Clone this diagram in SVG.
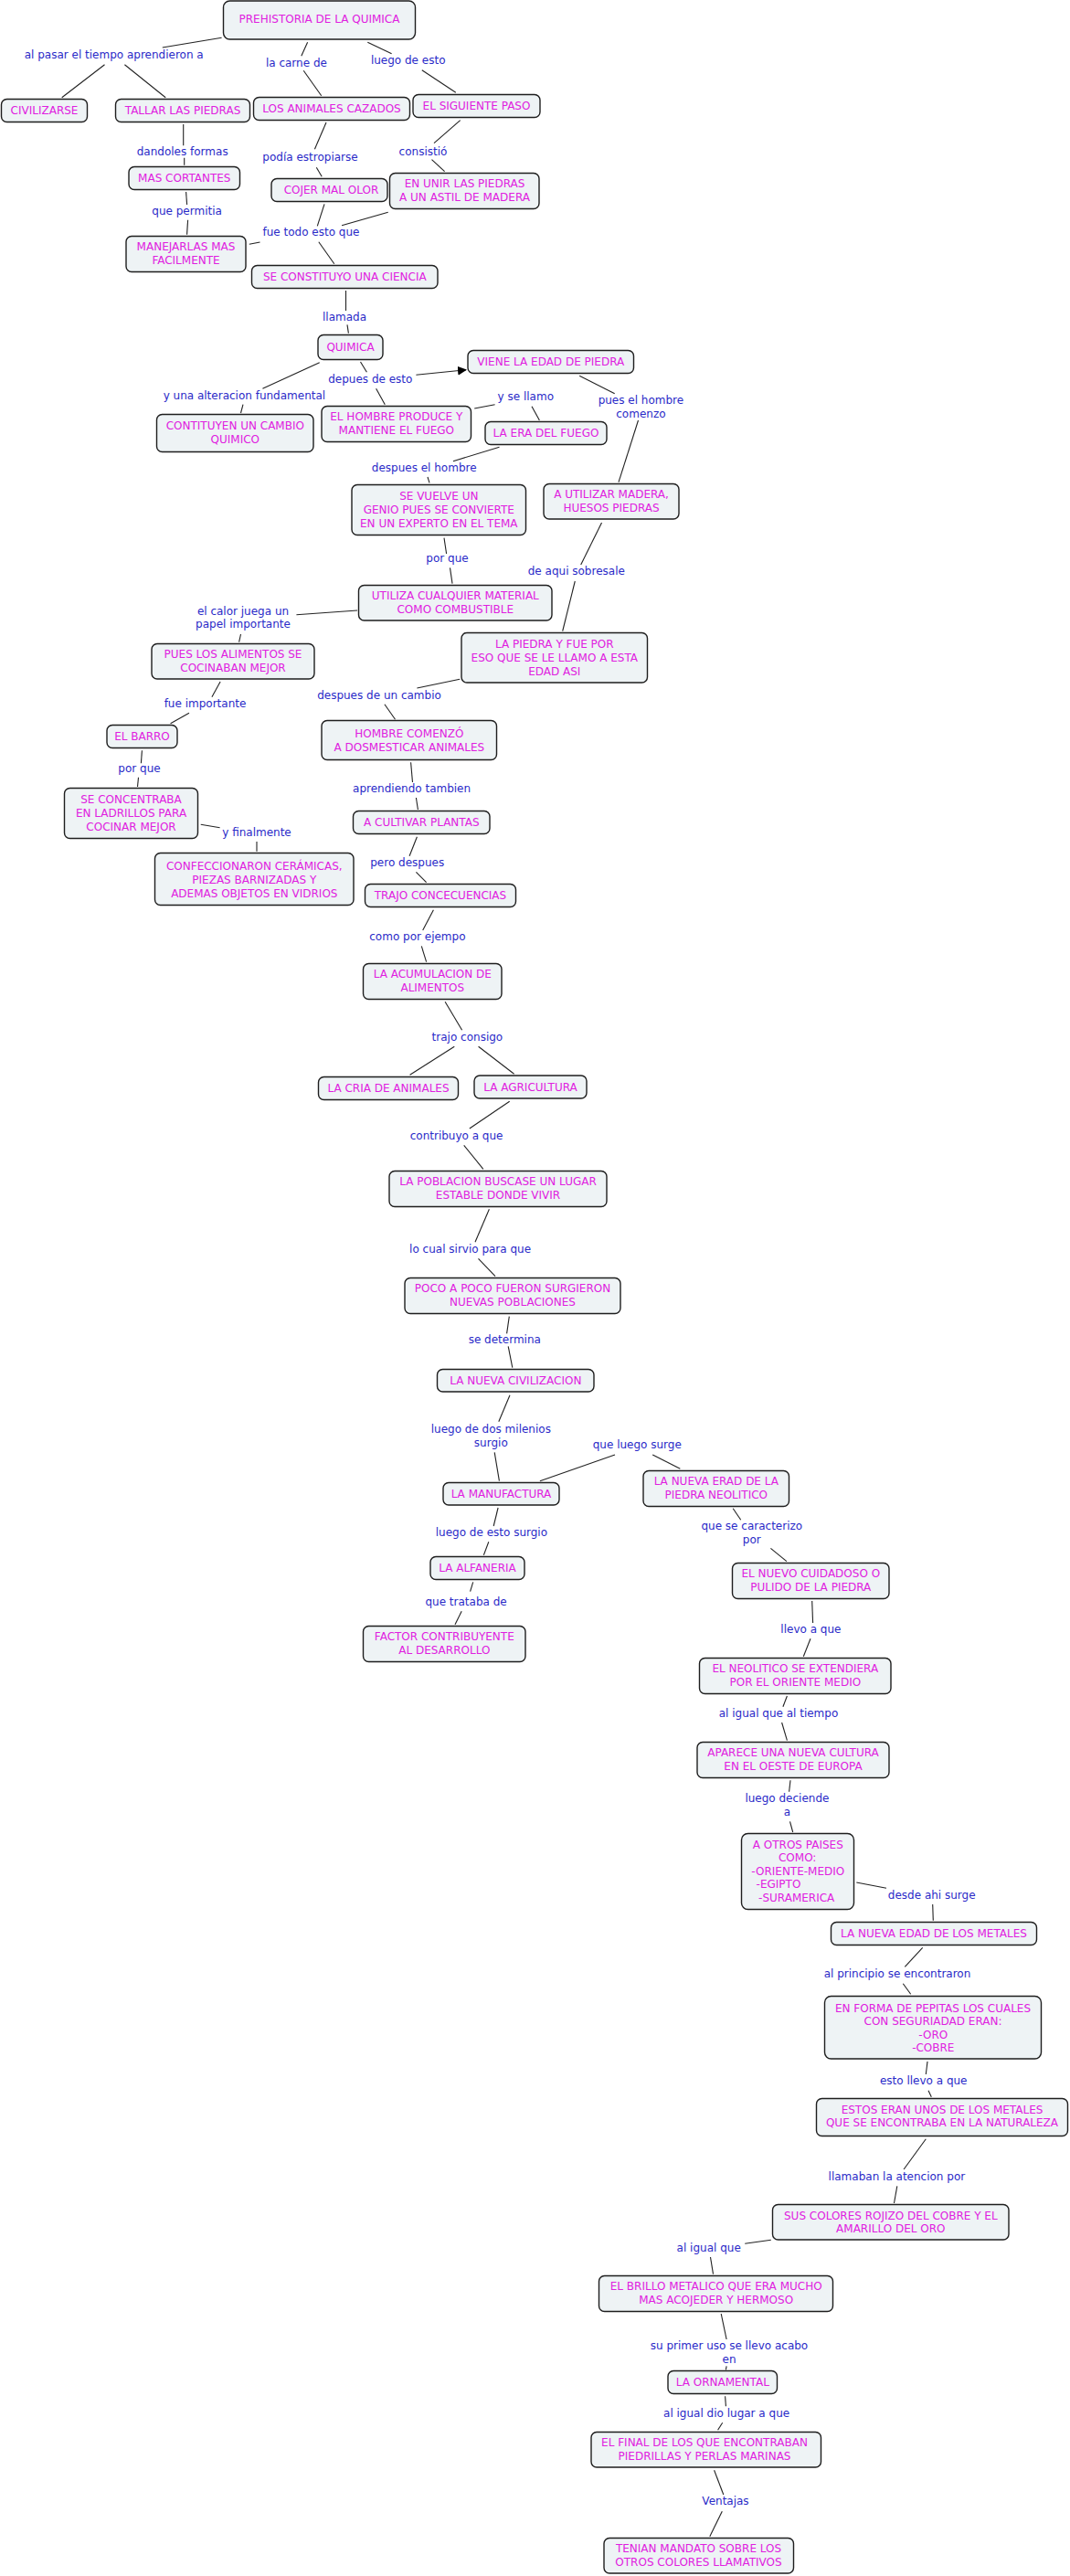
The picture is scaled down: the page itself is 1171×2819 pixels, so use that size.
<svg xmlns="http://www.w3.org/2000/svg" width="1171" height="2819" viewBox="0 0 1171 2819">
<defs>
<style>
.box{fill:#eef3f5;stroke:#1e1e1e;stroke-width:1.4}
.nt{font-family:"DejaVu Sans",Verdana,sans-serif;font-size:12px;fill:#e020e0;text-anchor:middle}
.lt{font-family:"DejaVu Sans",Verdana,sans-serif;font-size:12px;fill:#2a2ac8;text-anchor:middle}
.c line{stroke:#222;stroke-width:1.1}
</style>
<marker id="arr" viewBox="0 0 10 10" refX="9" refY="5" markerWidth="10" markerHeight="10" markerUnits="userSpaceOnUse" orient="auto">
<path d="M0,0 L10,5 L0,10 z" fill="#000"/>
</marker>
</defs>
<rect width="1171" height="2819" fill="#fff"/>
<g id="connectors" class="c">
<line x1="242.6" y1="41.3" x2="177.8" y2="52"/>
<line x1="114.5" y1="70.7" x2="67.7" y2="106.7"/>
<line x1="136.4" y1="70.7" x2="181.2" y2="106.7"/>
<line x1="336.6" y1="46.3" x2="329.8" y2="61.3"/>
<line x1="332.2" y1="77.3" x2="351.7" y2="104.7"/>
<line x1="402.3" y1="46.3" x2="428.6" y2="58.7"/>
<line x1="461.8" y1="76.7" x2="498.8" y2="101.3"/>
<line x1="200.7" y1="136" x2="200.7" y2="159.3"/>
<line x1="201.7" y1="172.7" x2="201.7" y2="180.7"/>
<line x1="357" y1="134" x2="344.4" y2="163.3"/>
<line x1="346.3" y1="183.3" x2="352.2" y2="193.3"/>
<line x1="503.7" y1="131.7" x2="475" y2="156.7"/>
<line x1="472.5" y1="174.7" x2="486.6" y2="187.7"/>
<line x1="203.6" y1="210" x2="204.6" y2="224"/>
<line x1="205.6" y1="240.7" x2="204.6" y2="256.7"/>
<line x1="355" y1="223.3" x2="347.3" y2="247.3"/>
<line x1="424.7" y1="232.3" x2="374" y2="246.7"/>
<line x1="284.5" y1="265" x2="272.8" y2="267.3"/>
<line x1="348.8" y1="264.7" x2="365.8" y2="288.7"/>
<line x1="378.5" y1="318" x2="378.5" y2="340"/>
<line x1="380" y1="355.3" x2="381.4" y2="364.7"/>
<line x1="349.7" y1="396.7" x2="287.4" y2="425.3"/>
<line x1="266" y1="442.7" x2="263.5" y2="452"/>
<line x1="394.5" y1="396" x2="401.4" y2="407.3"/>
<line x1="455.4" y1="410.3" x2="510" y2="404.8" marker-end="url(#arr)"/>
<line x1="411.6" y1="425.3" x2="421.3" y2="442.7"/>
<line x1="519.2" y1="447" x2="541.6" y2="442.7"/>
<line x1="582" y1="444.7" x2="590.4" y2="460"/>
<line x1="634.2" y1="411.3" x2="672.7" y2="430.7"/>
<line x1="698.5" y1="460" x2="677" y2="527.7"/>
<line x1="546.5" y1="489.3" x2="495.9" y2="504.7"/>
<line x1="468" y1="522" x2="470" y2="528.3"/>
<line x1="486" y1="588.7" x2="488.6" y2="606"/>
<line x1="492.5" y1="621.3" x2="495" y2="638.7"/>
<line x1="658.5" y1="572" x2="635.7" y2="618"/>
<line x1="629.3" y1="636" x2="615.7" y2="690.7"/>
<line x1="391.1" y1="668" x2="324.4" y2="672.7"/>
<line x1="263.5" y1="694" x2="261.6" y2="702.7"/>
<line x1="241.1" y1="746" x2="231.9" y2="762.7"/>
<line x1="207" y1="780.3" x2="186.6" y2="791.7"/>
<line x1="503.2" y1="743.3" x2="456.4" y2="753"/>
<line x1="420.9" y1="770.7" x2="432.5" y2="787.3"/>
<line x1="155.4" y1="821.3" x2="154.4" y2="835.3"/>
<line x1="151.5" y1="850.7" x2="150.5" y2="861"/>
<line x1="219.7" y1="902.3" x2="240.6" y2="905.7"/>
<line x1="281" y1="921" x2="281" y2="931.7"/>
<line x1="449.6" y1="834.3" x2="451.5" y2="856"/>
<line x1="455.4" y1="873" x2="457.4" y2="886"/>
<line x1="456.4" y1="915.7" x2="448.1" y2="936.7"/>
<line x1="455.4" y1="954.3" x2="466.6" y2="965.7"/>
<line x1="474.4" y1="995.7" x2="462.7" y2="1018"/>
<line x1="461.3" y1="1035.3" x2="466.6" y2="1052.7"/>
<line x1="487.1" y1="1096.3" x2="505.6" y2="1127.3"/>
<line x1="497.3" y1="1145.3" x2="448.6" y2="1176.3"/>
<line x1="523.6" y1="1145.3" x2="562.6" y2="1175.3"/>
<line x1="557.7" y1="1205.3" x2="513.8" y2="1235"/>
<line x1="507.7" y1="1253.3" x2="528.8" y2="1279.3"/>
<line x1="535.4" y1="1323.3" x2="520" y2="1359.3"/>
<line x1="523.5" y1="1377.3" x2="542" y2="1396.7"/>
<line x1="557.3" y1="1440.7" x2="554.6" y2="1459.3"/>
<line x1="556.2" y1="1473.3" x2="560.8" y2="1496.7"/>
<line x1="558" y1="1526.7" x2="545.8" y2="1555.7"/>
<line x1="541.2" y1="1589.3" x2="546.4" y2="1620.7"/>
<line x1="673" y1="1592" x2="590.9" y2="1620.7"/>
<line x1="714.2" y1="1592" x2="744.3" y2="1607.3"/>
<line x1="545.1" y1="1650" x2="540.2" y2="1670"/>
<line x1="534.8" y1="1687.3" x2="529.4" y2="1701.7"/>
<line x1="517.7" y1="1731.3" x2="514.6" y2="1741.7"/>
<line x1="505.2" y1="1763.3" x2="498" y2="1777.7"/>
<line x1="802.2" y1="1650.7" x2="810.7" y2="1663.3"/>
<line x1="843.4" y1="1694.3" x2="860.9" y2="1708.7"/>
<line x1="888.7" y1="1752" x2="889.6" y2="1776"/>
<line x1="887" y1="1793.3" x2="879.3" y2="1812.7"/>
<line x1="861.4" y1="1856" x2="856.9" y2="1867.7"/>
<line x1="855.6" y1="1885" x2="861.4" y2="1904.7"/>
<line x1="865" y1="1948.3" x2="863.6" y2="1960.7"/>
<line x1="864.5" y1="1993.3" x2="867.7" y2="2005"/>
<line x1="937.3" y1="2060" x2="970" y2="2066.3"/>
<line x1="1020.7" y1="2084" x2="1021.3" y2="2101.7"/>
<line x1="1009.7" y1="2131.3" x2="990.3" y2="2152.3"/>
<line x1="988.3" y1="2170.7" x2="996.7" y2="2182.3"/>
<line x1="1015" y1="2256" x2="1013.3" y2="2270"/>
<line x1="1016" y1="2287.7" x2="1019.3" y2="2294.7"/>
<line x1="1013.3" y1="2340.7" x2="989.1" y2="2374"/>
<line x1="981.8" y1="2392.3" x2="978.5" y2="2411"/>
<line x1="843.8" y1="2451.3" x2="815.2" y2="2455.3"/>
<line x1="777.5" y1="2470" x2="780.5" y2="2488.7"/>
<line x1="789.2" y1="2532" x2="795.1" y2="2560"/>
<line x1="795.1" y1="2589.3" x2="794.4" y2="2593.3"/>
<line x1="793.6" y1="2622.3" x2="794.4" y2="2633.3"/>
<line x1="790.7" y1="2651.3" x2="785.6" y2="2659.3"/>
<line x1="781.6" y1="2703.3" x2="791.8" y2="2730"/>
<line x1="790.3" y1="2748.3" x2="776.8" y2="2775.7"/>
</g>
<g id="labels">
<text class="lt" x="124.7" y="64">al pasar el tiempo aprendieron a</text>
<text class="lt" x="324.4" y="73">la carne de</text>
<text class="lt" x="446.7" y="70">luego de esto</text>
<text class="lt" x="199.7" y="169.7">dandoles formas</text>
<text class="lt" x="339.5" y="176.3">podía estropiarse</text>
<text class="lt" x="463" y="169.7">consistió</text>
<text class="lt" x="204.6" y="234.7">que permitia</text>
<text class="lt" x="340.5" y="258">fue todo esto que</text>
<text class="lt" x="377" y="350.7">llamada</text>
<text class="lt" x="405.3" y="418.7">depues de esto</text>
<text class="lt" x="267.4" y="437">y una alteracion fundamental</text>
<text class="lt" x="575.3" y="438">y se llamo</text>
<text class="lt" x="701.4" y="442">pues el hombre<tspan x="701.4" dy="14.7">comenzo</tspan></text>
<text class="lt" x="464.2" y="516">despues el hombre</text>
<text class="lt" x="489.5" y="614.7">por que</text>
<text class="lt" x="630.8" y="628.7">de aqui sobresale</text>
<text class="lt" x="266" y="672.7">el calor juega un<tspan x="266" dy="14.7">papel importante</tspan></text>
<text class="lt" x="224.5" y="774">fue importante</text>
<text class="lt" x="415" y="765">despues de un cambio</text>
<text class="lt" x="152.5" y="845">por que</text>
<text class="lt" x="281" y="914.7">y finalmente</text>
<text class="lt" x="450.6" y="866.7">aprendiendo tambien</text>
<text class="lt" x="445.7" y="948">pero despues</text>
<text class="lt" x="456.9" y="1028.7">como por ejempo</text>
<text class="lt" x="511.4" y="1138.7">trajo consigo</text>
<text class="lt" x="499.6" y="1247">contribuyo a que</text>
<text class="lt" x="514.6" y="1370.7">lo cual sirvio para que</text>
<text class="lt" x="552.3" y="1469.7">se determina</text>
<text class="lt" x="537.3" y="1567.7">luego de dos milenios<tspan x="537.3" dy="15">surgio</tspan></text>
<text class="lt" x="697.3" y="1585">que luego surge</text>
<text class="lt" x="537.9" y="1681">luego de esto surgio</text>
<text class="lt" x="510.1" y="1757">que trataba de</text>
<text class="lt" x="822.8" y="1673.7">que se caracterizo<tspan x="822.8" dy="15">por</tspan></text>
<text class="lt" x="887.4" y="1786.7">llevo a que</text>
<text class="lt" x="852" y="1879">al igual que al tiempo</text>
<text class="lt" x="861.4" y="1972">luego deciende<tspan x="861.4" dy="15">a</tspan></text>
<text class="lt" x="1019.7" y="2077.7">desde ahi surge</text>
<text class="lt" x="982" y="2163.7">al principio se encontraron</text>
<text class="lt" x="1010.7" y="2281">esto llevo a que</text>
<text class="lt" x="981.4" y="2386">llamaban la atencion por</text>
<text class="lt" x="775.7" y="2464">al igual que</text>
<text class="lt" x="798" y="2571">su primer uso se llevo acabo<tspan x="798" dy="14.7">en</tspan></text>
<text class="lt" x="795.1" y="2645">al igual dio lugar a que</text>
<text class="lt" x="794" y="2741.3">Ventajas</text>
</g>
<g id="n_prehistoria"><rect class="box" x="244.5" y="1" width="210" height="42" rx="7"/><text class="nt" x="349.5" y="25">PREHISTORIA DE LA QUIMICA</text></g>
<g id="n_civilizarse"><rect class="box" x="1.5" y="108.5" width="94" height="25" rx="6"/><text class="nt" x="48.5" y="125.3">CIVILIZARSE</text></g>
<g id="n_tallar"><rect class="box" x="126.5" y="108.5" width="147" height="25" rx="6"/><text class="nt" x="200" y="125.3">TALLAR LAS PIEDRAS</text></g>
<g id="n_animales"><rect class="box" x="277.5" y="106.5" width="171" height="25" rx="6"/><text class="nt" x="363" y="123.3">LOS ANIMALES CAZADOS</text></g>
<g id="n_siguiente"><rect class="box" x="452" y="103.5" width="139" height="25" rx="6"/><text class="nt" x="521.5" y="120.3">EL SIGUIENTE PASO</text></g>
<g id="n_cortantes"><rect class="box" x="141" y="182.5" width="121.5" height="25" rx="6"/><text class="nt" x="201.8" y="199.3">MAS CORTANTES</text></g>
<g id="n_cojer"><rect class="box" x="297" y="195.5" width="127" height="25" rx="6"/><text class="nt" x="362.5" y="212.3">COJER MAL OLOR</text></g>
<g id="n_unir"><rect class="box" x="426.5" y="189.5" width="163.5" height="39" rx="6"/><text class="nt" x="508.5" y="205.3">EN UNIR LAS PIEDRAS<tspan x="508.5" dy="15">A UN ASTIL DE MADERA</tspan></text></g>
<g id="n_manejarlas"><rect class="box" x="138" y="258.5" width="131" height="39" rx="6"/><text class="nt" x="203.5" y="274.3">MANEJARLAS MAS<tspan x="203.5" dy="15">FACILMENTE</tspan></text></g>
<g id="n_ciencia"><rect class="box" x="275.5" y="290.5" width="203.5" height="25" rx="6"/><text class="nt" x="377.3" y="307.3">SE CONSTITUYO UNA CIENCIA</text></g>
<g id="n_quimica"><rect class="box" x="348" y="366.5" width="71" height="27" rx="6"/><text class="nt" x="383.5" y="384.3">QUIMICA</text></g>
<g id="n_viene"><rect class="box" x="512" y="383.5" width="181.5" height="25" rx="6"/><text class="nt" x="602.8" y="400.3">VIENE LA EDAD DE PIEDRA</text></g>
<g id="n_contituyen"><rect class="box" x="171.5" y="453.5" width="171.5" height="41" rx="6"/><text class="nt" x="257.3" y="470.3">CONTITUYEN UN CAMBIO<tspan x="257.3" dy="14.5">QUIMICO</tspan></text></g>
<g id="n_hombre_fuego"><rect class="box" x="352" y="444.5" width="163.5" height="39" rx="6"/><text class="nt" x="433.8" y="460.3">EL HOMBRE PRODUCE Y<tspan x="433.8" dy="14.5">MANTIENE EL FUEGO</tspan></text></g>
<g id="n_era_fuego"><rect class="box" x="531" y="461.5" width="133" height="25" rx="6"/><text class="nt" x="597.5" y="478.3">LA ERA DEL FUEGO</text></g>
<g id="n_utilizar_madera"><rect class="box" x="595" y="529.5" width="148" height="38.5" rx="6"/><text class="nt" x="669" y="545.3">A UTILIZAR MADERA,<tspan x="669" dy="14.5">HUESOS PIEDRAS</tspan></text></g>
<g id="n_genio"><rect class="box" x="385" y="530.5" width="190.5" height="55" rx="6"/><text class="nt" x="480.3" y="547.3">SE VUELVE UN<tspan x="480.3" dy="14.6">GENIO PUES SE CONVIERTE</tspan><tspan x="480.3" dy="14.6">EN UN EXPERTO EN EL TEMA</tspan></text></g>
<g id="n_combustible"><rect class="box" x="392.5" y="640.5" width="211.5" height="38.5" rx="6"/><text class="nt" x="498.3" y="656.3">UTILIZA CUALQUIER MATERIAL<tspan x="498.3" dy="14.5">COMO COMBUSTIBLE</tspan></text></g>
<g id="n_piedra_asi"><rect class="box" x="505" y="692.5" width="203.5" height="54.5" rx="6"/><text class="nt" x="606.8" y="709.3">LA PIEDRA Y FUE POR<tspan x="606.8" dy="14.6">ESO QUE SE LE LLAMO A ESTA</tspan><tspan x="606.8" dy="14.6">EDAD ASI</tspan></text></g>
<g id="n_alimentos"><rect class="box" x="166" y="704.5" width="178" height="38.5" rx="6"/><text class="nt" x="255" y="720.3">PUES LOS ALIMENTOS SE<tspan x="255" dy="14.5">COCINABAN MEJOR</tspan></text></g>
<g id="n_barro"><rect class="box" x="117" y="793.5" width="77" height="25" rx="6"/><text class="nt" x="155.5" y="810.3">EL BARRO</text></g>
<g id="n_domesticar"><rect class="box" x="352" y="788.5" width="191.5" height="43" rx="6"/><text class="nt" x="447.8" y="807.3">HOMBRE COMENZÓ<tspan x="447.8" dy="14.5">A DOSMESTICAR ANIMALES</tspan></text></g>
<g id="n_ladrillos"><rect class="box" x="70.5" y="862.5" width="146" height="55" rx="6"/><text class="nt" x="143.5" y="879.3">SE CONCENTRABA<tspan x="143.5" dy="14.6">EN LADRILLOS PARA</tspan><tspan x="143.5" dy="14.6">COCINAR MEJOR</tspan></text></g>
<g id="n_ceramicas"><rect class="box" x="169.5" y="933.5" width="217.5" height="57" rx="6"/><text class="nt" x="278.3" y="952.3">CONFECCIONARON CERÁMICAS,<tspan x="278.3" dy="14.6">PIEZAS BARNIZADAS Y</tspan><tspan x="278.3" dy="14.6">ADEMAS OBJETOS EN VIDRIOS</tspan></text></g>
<g id="n_cultivar"><rect class="box" x="386.5" y="887.5" width="149.5" height="25" rx="6"/><text class="nt" x="461.3" y="904.3">A CULTIVAR PLANTAS</text></g>
<g id="n_trajo"><rect class="box" x="399.5" y="967.5" width="165" height="25" rx="6"/><text class="nt" x="482" y="984.3">TRAJO CONCECUENCIAS</text></g>
<g id="n_acumulacion"><rect class="box" x="397.5" y="1054.5" width="151.5" height="39" rx="6"/><text class="nt" x="473.3" y="1070.3">LA ACUMULACION DE<tspan x="473.3" dy="14.6">ALIMENTOS</tspan></text></g>
<g id="n_cria"><rect class="box" x="348.5" y="1178.5" width="153" height="25" rx="6"/><text class="nt" x="425" y="1195.3">LA CRIA DE ANIMALES</text></g>
<g id="n_agricultura"><rect class="box" x="519" y="1177" width="123" height="25" rx="6"/><text class="nt" x="580.5" y="1193.8">LA AGRICULTURA</text></g>
<g id="n_poblacion"><rect class="box" x="426" y="1281.5" width="238" height="39" rx="6"/><text class="nt" x="545" y="1297.3">LA POBLACION BUSCASE UN LUGAR<tspan x="545" dy="14.6">ESTABLE DONDE VIVIR</tspan></text></g>
<g id="n_poco"><rect class="box" x="443" y="1398.5" width="236" height="39" rx="6"/><text class="nt" x="561" y="1414.3">POCO A POCO FUERON SURGIERON<tspan x="561" dy="14.6">NUEVAS POBLACIONES</tspan></text></g>
<g id="n_nueva_civ"><rect class="box" x="478.5" y="1498.5" width="171.5" height="24.5" rx="6"/><text class="nt" x="564.3" y="1515">LA NUEVA CIVILIZACION</text></g>
<g id="n_manufactura"><rect class="box" x="485" y="1622.5" width="127" height="24.5" rx="6"/><text class="nt" x="548.5" y="1639">LA MANUFACTURA</text></g>
<g id="n_nueva_erad"><rect class="box" x="704" y="1609.5" width="159.5" height="39" rx="6"/><text class="nt" x="783.8" y="1625.3">LA NUEVA ERAD DE LA<tspan x="783.8" dy="14.6">PIEDRA NEOLITICO</tspan></text></g>
<g id="n_alfaneria"><rect class="box" x="471" y="1703.5" width="103" height="25" rx="6"/><text class="nt" x="522.5" y="1720.3">LA ALFANERIA</text></g>
<g id="n_factor"><rect class="box" x="397.5" y="1779.5" width="177.5" height="39" rx="6"/><text class="nt" x="486.3" y="1795.3">FACTOR CONTRIBUYENTE<tspan x="486.3" dy="14.6">AL DESARROLLO</tspan></text></g>
<g id="n_cuidadoso"><rect class="box" x="801.5" y="1710.5" width="171.5" height="39" rx="6"/><text class="nt" x="887.3" y="1726.3">EL NUEVO CUIDADOSO O<tspan x="887.3" dy="14.6">PULIDO DE LA PIEDRA</tspan></text></g>
<g id="n_extendiera"><rect class="box" x="765.5" y="1814.5" width="209.5" height="39" rx="6"/><text class="nt" x="870.3" y="1830.3">EL NEOLITICO SE EXTENDIERA<tspan x="870.3" dy="14.6">POR EL ORIENTE MEDIO</tspan></text></g>
<g id="n_aparece"><rect class="box" x="763" y="1906.5" width="210" height="39" rx="6"/><text class="nt" x="868" y="1922.3">APARECE UNA NUEVA CULTURA<tspan x="868" dy="14.6">EN EL OESTE DE EUROPA</tspan></text></g>
<g id="n_otros"><rect class="box" x="811.5" y="2006.5" width="123" height="83" rx="7"/><text class="nt" x="873.3" y="2022.7">A OTROS PAISES<tspan x="872.7" dy="14.5">COMO:</tspan><tspan x="873.3" dy="14.5">-ORIENTE-MEDIO</tspan><tspan x="852" dy="14.5">-EGIPTO</tspan><tspan x="871.7" dy="14.5">-SURAMERICA</tspan></text></g>
<g id="n_metales"><rect class="box" x="909.5" y="2103.5" width="225" height="25" rx="6"/><text class="nt" x="1022" y="2120.3">LA NUEVA EDAD DE LOS METALES</text></g>
<g id="n_pepitas"><rect class="box" x="902.5" y="2184.5" width="237" height="68.5" rx="7"/><text class="nt" x="1021" y="2201.7">EN FORMA DE PEPITAS LOS CUALES<tspan x="1021" dy="14.5">CON SEGURIADAD ERAN:</tspan><tspan x="1021.3" dy="14.5">-ORO</tspan><tspan x="1021.3" dy="14.5">-COBRE</tspan></text></g>
<g id="n_estos"><rect class="box" x="893.5" y="2296.5" width="275" height="41" rx="6"/><text class="nt" x="1031" y="2312.7">ESTOS ERAN UNOS DE LOS METALES<tspan x="1031" dy="14.4">QUE SE ENCONTRABA EN LA NATURALEZA</tspan></text></g>
<g id="n_colores"><rect class="box" x="845.5" y="2412.5" width="258.5" height="38.5" rx="6"/><text class="nt" x="974.8" y="2428.7">SUS COLORES ROJIZO DEL COBRE Y EL<tspan x="974.8" dy="14.4">AMARILLO DEL ORO</tspan></text></g>
<g id="n_brillo"><rect class="box" x="655.5" y="2490.5" width="256" height="39" rx="6"/><text class="nt" x="783.7" y="2506.3">EL BRILLO METALICO QUE ERA MUCHO<tspan x="783.7" dy="14.6">MAS ACOJEDER Y HERMOSO</tspan></text></g>
<g id="n_ornamental"><rect class="box" x="731" y="2594.5" width="119.5" height="25" rx="6"/><text class="nt" x="790.8" y="2611.3">LA ORNAMENTAL</text></g>
<g id="n_final"><rect class="box" x="647" y="2661.5" width="251.5" height="38.5" rx="6"/><text class="nt" x="771" y="2677.3">EL FINAL DE LOS QUE ENCONTRABAN<tspan x="771" dy="14.6">PIEDRILLAS Y PERLAS MARINAS</tspan></text></g>
<g id="n_tenian"><rect class="box" x="661" y="2777.5" width="207.5" height="38.5" rx="6"/><text class="nt" x="764.5" y="2793.3">TENIAN MANDATO SOBRE LOS<tspan x="764.5" dy="14.6">OTROS COLORES LLAMATIVOS</tspan></text></g>
</svg>
